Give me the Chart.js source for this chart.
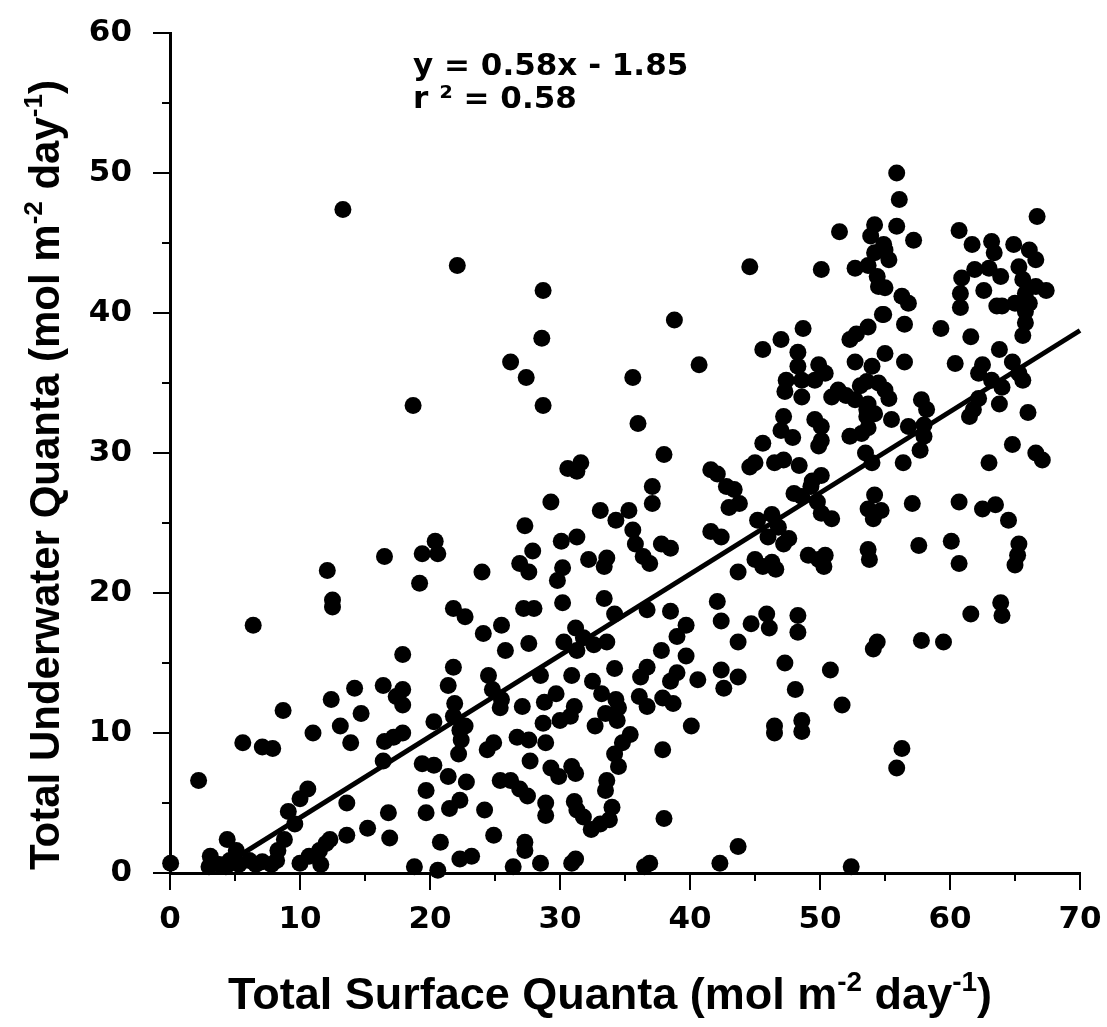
<!DOCTYPE html>
<html>
<head>
<meta charset="utf-8">
<title>Total Underwater vs Surface Quanta</title>
<script src="https://cdn.jsdelivr.net/npm/chart.js@4.4.0/dist/chart.umd.min.js"></script>
<style>
  html, body { margin: 0; padding: 0; background: #fff; }
  #wrap { width: 1107px; height: 1027px; }
</style>
</head>
<body>
<div id="wrap"><canvas id="quantaChart" width="1107" height="1027"></canvas></div>
<script>
// surface quanta (x) and underwater quanta (y), same order
const surfaceQuanta = [
    13.3, 22.1, 28.7, 28.6, 26.2, 27.4, 28.7, 18.7, 30.6, 31.3,
    31.6, 29.3, 33.1, 27.3, 27.9, 30.1, 31.3, 26.9, 27.6, 30.2,
    29.8, 32.2, 33.6, 33.4, 24.0, 20.4, 20.6, 19.4, 16.5, 12.1,
    19.2, 33.4,
    // lower left block
    12.5, 12.5, 6.4, 21.8, 22.7, 27.2, 28.0, 25.5, 24.1, 25.8,
    27.6, 30.2, 34.2, 31.2, 31.8, 30.3, 32.6, 33.6, 31.3, 17.9,
    21.8, 24.5, 28.5, 30.9, 32.5, 34.2, 14.2, 16.4, 17.9, 17.4,
    17.9, 12.4, 8.7, 14.7, 21.4, 21.9, 24.8, 25.5, 25.4, 27.1,
    28.8, 29.7, 31.1, 30.8, 30.0, 28.7, 33.2, 34.3, 33.5, 32.7,
    34.4, 20.3, 21.8, 22.3, 22.4, 22.2, 22.7, 11.0, 13.1, 13.9,
    5.6, 7.1, 7.9, 16.5, 17.2, 17.9, 16.4, 19.4, 20.3, 21.4,
    22.8, 19.7, 19.7, 21.5, 22.3, 24.2, 24.4, 24.9, 26.7, 27.6,
    28.9, 27.7, 29.3, 29.9, 30.9, 31.2, 25.4, 26.2, 26.9, 27.5,
    28.9, 28.9, 31.1, 31.3, 31.8, 32.4, 33.1, 33.8, 33.6, 33.5,
    34.0, 34.5, 34.2, 24.9, 20.8, 22.3, 23.2, 27.3, 27.3, 26.4,
    28.5, 31.2, 30.9, 18.8, 20.6, 13.6, 15.2, 16.8, 16.9, 13.6,
    10.6, 10.0, 9.1, 9.6, 8.8, 8.3, 8.2, 7.8, 10.0, 10.7,
    11.5, 12.0, 11.6, 12.3, 7.1, 6.6, 6.1, 5.3, 4.4, 3.1,
    3.0, 3.8, 4.6, 5.1, 0.05, 2.2, 4.3,
    // lower right block
    36.7, 38.5, 42.1, 42.4, 39.7, 39.0, 37.8, 39.7, 43.7, 44.7,
    45.9, 46.1, 48.3, 48.3, 36.7, 36.2, 36.1, 36.7, 39.0, 38.5,
    40.6, 42.4, 43.7, 42.6, 37.9, 38.7, 35.4, 34.8, 34.5, 40.1,
    37.9, 38.0, 47.3, 48.1, 46.5, 46.5, 48.6, 48.6, 50.8, 51.7,
    54.4, 54.1, 57.8, 59.5, 61.6, 63.9, 64.0, 56.3, 55.9, 43.7,
    42.3, 36.9, 36.5, 52.4,
    // middle right block
    38.8, 40.7, 35.6, 36.0, 38.0, 37.1, 37.1, 35.3, 34.3, 35.6,
    35.8, 36.4, 36.9, 37.8, 38.5, 41.6, 42.1, 42.8, 43.4, 43.0,
    43.8, 44.6, 45.0, 45.6, 47.0, 48.7, 48.3, 48.3, 47.4, 47.3,
    48.6, 49.9, 50.4, 49.6, 48.6, 47.2, 47.0, 47.9, 45.6, 46.5,
    47.2, 48.4, 41.6, 42.4, 45.2, 46.3, 46.0, 46.8, 47.2, 45.0,
    45.6, 46.3, 46.6, 43.7, 47.6, 49.1, 49.9, 50.4, 50.3, 49.3,
    49.4, 50.1, 48.0, 48.6, 50.1, 50.9, 49.8, 52.3, 52.8, 53.7,
    54.8, 56.5, 56.5, 55.0, 54.0, 52.7, 53.6, 53.1, 54.5, 55.0,
    52.0, 52.7, 53.7, 55.3, 53.6, 54.2, 55.5, 53.6, 52.3, 53.2,
    53.7, 53.5, 54.0, 57.1, 54.2, 53.7, 54.7, 54.1, 53.7, 53.8,
    57.6, 60.1, 60.7, 60.7, 62.5, 63.5, 64.5, 65.3, 65.2, 65.0,
    63.0, 64.8, 66.6, 67.1, 63.8, 66.0, 61.5, 61.8, 62.2, 57.8,
    58.2, 58.0, 58.0, 57.7, 56.8, 56.4, 59.3, 61.6, 60.4, 62.5,
    63.8, 64.8, 65.3, 63.2, 64.0, 62.2, 65.6, 65.8, 65.6, 49.6,
    50.1, 50.1, 49.9, 51.4, 50.9,
    // top right block
    44.6, 55.9, 56.1, 51.5, 54.2, 55.9, 53.9, 57.2, 54.9, 54.2,
    55.3, 53.7, 55.0, 50.1, 52.7, 54.4, 54.5, 55.0, 56.3, 56.8,
    54.9, 60.7, 61.7, 63.2, 63.4, 64.9, 66.7, 66.1, 66.6, 60.9,
    61.9, 63.0, 63.9, 60.8, 60.8, 62.6, 65.3, 65.6, 65.8, 66.6,
    67.4, 65.0, 66.1, 63.6, 64.0, 65.8
];

const underwaterQuanta = [
    47.4, 43.4, 41.6, 38.2, 36.5, 35.4, 33.4, 33.4, 28.9, 28.7,
    29.3, 26.5, 25.9, 24.8, 23.0, 23.7, 24.0, 22.1, 21.5, 21.8,
    20.9, 22.4, 22.5, 21.9, 21.5, 23.7, 22.8, 22.8, 22.6, 21.6,
    20.7, 19.6,
    // lower left block
    19.5, 19.0, 17.7, 18.9, 18.3, 18.9, 18.9, 17.7, 17.1, 15.9,
    16.4, 19.3, 18.5, 17.5, 16.8, 16.5, 16.3, 16.5, 15.9, 15.6,
    14.7, 14.1, 14.1, 14.1, 13.7, 14.6, 13.2, 13.4, 13.1, 12.6,
    12.0, 12.4, 11.6, 11.4, 13.4, 12.1, 13.1, 12.4, 11.8, 11.9,
    12.2, 12.8, 11.9, 11.2, 10.9, 10.7, 12.8, 12.4, 11.4, 10.5,
    10.9, 10.8, 11.2, 10.2, 9.5, 8.5, 10.5, 10.0, 10.5, 9.3,
    9.3, 9.0, 8.9, 9.4, 9.7, 10.0, 8.0, 7.8, 7.7, 6.9,
    6.5, 5.9, 4.3, 4.6, 5.2, 4.5, 8.8, 9.3, 9.7, 9.5,
    9.3, 8.0, 7.5, 6.9, 7.6, 7.1, 6.6, 6.6, 6.0, 5.5,
    5.0, 4.1, 5.1, 4.5, 4.0, 3.1, 3.5, 3.8, 6.6, 5.9,
    4.7, 7.6, 8.5, 2.7, 2.2, 1.0, 1.2, 2.2, 1.6, 0.45,
    0.7, 1.0, 0.7, 0.45, 0.2, 5.0, 3.2, 4.3, 2.5, 2.7,
    6.0, 5.3, 4.4, 3.5, 2.4, 1.6, 0.9, 0.6, 0.7, 1.2,
    1.6, 2.1, 0.6, 2.4, 0.8, 0.6, 0.9, 0.6, 2.4, 1.2,
    0.45, 0.6, 0.9, 1.6, 0.7, 6.6, 0.45,
    // lower right block
    18.8, 18.7, 19.4, 18.0, 17.7, 16.9, 15.9, 15.5, 16.5, 17.8,
    18.5, 17.5, 18.4, 17.2, 14.7, 14.0, 12.6, 11.9, 14.3, 13.7,
    13.8, 14.5, 14.0, 13.2, 12.5, 12.1, 9.9, 9.3, 11.8, 10.5,
    8.8, 3.9, 15.0, 13.1, 10.5, 10.0, 10.9, 10.1, 14.5, 12.0,
    16.5, 16.0, 16.6, 16.5, 18.5, 19.3, 18.4, 8.9, 7.5, 1.9,
    0.7, 0.7, 0.45, 0.45,
    // middle right block
    39.5, 36.3, 35.4, 32.1, 29.9, 27.6, 26.4, 25.9, 25.2, 24.5,
    23.5, 22.6, 22.1, 23.5, 23.2, 28.8, 28.5, 27.6, 27.4, 26.1,
    26.4, 29.0, 29.3, 37.4, 38.1, 38.9, 37.2, 36.2, 35.2, 34.4,
    34.0, 36.3, 35.7, 35.2, 35.2, 32.6, 31.6, 31.1, 30.7, 29.3,
    29.5, 29.1, 24.4, 24.0, 25.2, 25.6, 24.0, 24.7, 23.5, 22.4,
    21.9, 22.2, 21.7, 21.5, 23.9, 22.7, 22.4, 22.7, 21.9, 27.6,
    28.0, 28.4, 27.1, 26.9, 25.7, 25.3, 26.5, 38.1, 38.5, 39.0,
    39.9, 39.2, 36.5, 37.1, 36.2, 36.5, 35.1, 34.8, 35.0, 34.5,
    34.1, 33.8, 33.5, 33.9, 33.1, 32.8, 32.4, 32.6, 31.2, 31.4,
    31.8, 30.0, 29.3, 26.4, 27.0, 26.0, 25.9, 25.3, 23.1, 22.4,
    23.4, 23.7, 22.1, 26.5, 26.0, 26.3, 25.2, 23.5, 22.7, 22.0,
    29.3, 30.6, 30.0, 29.5, 33.5, 32.9, 32.6, 33.1, 33.9, 33.8,
    33.1, 32.0, 31.2, 30.2, 31.9, 29.3, 38.9, 38.3, 36.4, 36.3,
    37.4, 36.5, 35.7, 35.2, 34.7, 35.7, 35.2, 39.3, 38.4, 32.4,
    31.9, 30.9, 30.5, 34.5, 34.0,
    // top right block
    43.3, 50.0, 48.1, 45.8, 46.3, 46.2, 45.5, 45.2, 44.9, 44.3,
    43.8, 43.4, 44.5, 43.1, 43.2, 42.6, 41.9, 41.8, 41.2, 40.7,
    39.9, 45.9, 44.9, 45.1, 44.3, 44.9, 46.9, 44.5, 43.8, 42.5,
    43.1, 43.2, 42.6, 41.4, 40.4, 41.6, 43.3, 42.4, 41.4, 41.9,
    41.6, 40.7, 40.7, 40.5, 40.5, 40.1
];

// regression line ends as drawn on the plot
const fitLineX = [4.5, 70];
const fitLineY = [0.76, 38.75];
const fitText = ['y = 0.58x - 1.85', 'r \u00b2 = 0.58'];
const fitTextAnchor = { x: 18.7, y: [57.6, 55.2] };

// axis titles, superscripts marked separately
const xTitleParts = [['Total Surface Quanta (mol m', false], ['-2', true], [' day', false], ['-1', true], [')', false]];
const yTitleParts = [['Total Underwater Quanta (mol m', false], ['-2', true], [' day', false], ['-1', true], [')', false]];

const points = surfaceQuanta.map(function (v, i) {
    return { x: v, y: underwaterQuanta[i] };
});
const fitLine = fitLineX.map(function (v, i) {
    return { x: v, y: fitLineY[i] };
});

// small outward tick marks, long ones every 10, short ones every 5
const axisTicks = {
    id: 'axisTicks',
    afterDraw(chart) {
        const ctx = chart.ctx;
        const area = chart.chartArea;
        const xs = chart.scales.x, ys = chart.scales.y;
        ctx.save();
        ctx.strokeStyle = '#000';
        ctx.lineWidth = 2;
        ctx.beginPath();
        for (let v = xs.min; v <= xs.max; v += 5) {
            const px = Math.round(xs.getPixelForValue(v));
            const len = v % 10 === 0 ? 17 : 8;
            ctx.moveTo(px, area.bottom);
            ctx.lineTo(px, area.bottom + len);
        }
        for (let v = ys.min; v <= ys.max; v += 5) {
            const py = Math.round(ys.getPixelForValue(v));
            const len = v % 10 === 0 ? 17 : 8;
            ctx.moveTo(area.left, py);
            ctx.lineTo(area.left - len, py);
        }
        ctx.stroke();
        ctx.restore();
    }
};

function drawTitle(ctx, parts, size) {
    let total = 0;
    const widths = parts.map(function (p) {
        ctx.font = 'bold ' + (p[1] ? size * 0.62 : size) + 'px "Liberation Sans", Arial, sans-serif';
        const w = ctx.measureText(p[0]).width;
        total += w;
        return w;
    });
    let x = -total / 2;
    parts.forEach(function (p, i) {
        ctx.font = 'bold ' + (p[1] ? size * 0.62 : size) + 'px "Liberation Sans", Arial, sans-serif';
        ctx.fillText(p[0], x, p[1] ? size * 0.36 - size * 0.4 : size * 0.36);
        x += widths[i];
    });
}

const axisTitles = {
    id: 'axisTitles',
    afterDraw(chart) {
        const ctx = chart.ctx;
        const area = chart.chartArea;
        ctx.save();
        ctx.fillStyle = '#000';
        ctx.textAlign = 'left';
        ctx.textBaseline = 'alphabetic';
        ctx.save();
        ctx.translate((area.left + area.right) / 2 - 15, area.bottom + 120);
        drawTitle(ctx, xTitleParts, 45);
        ctx.restore();
        ctx.save();
        ctx.translate(area.left - 126, (area.top + area.bottom) / 2 + 22);
        ctx.rotate(-Math.PI / 2);
        drawTitle(ctx, yTitleParts, 42);
        ctx.restore();
        ctx.restore();
    }
};

const fitLabel = {
    id: 'fitLabel',
    afterDraw(chart) {
        const ctx = chart.ctx;
        const xs = chart.scales.x, ys = chart.scales.y;
        ctx.save();
        ctx.fillStyle = '#000';
        ctx.font = 'bold 31px "DejaVu Sans"';
        ctx.textAlign = 'left';
        ctx.textBaseline = 'middle';
        fitText.forEach(function (t, i) {
            ctx.fillText(t, xs.getPixelForValue(fitTextAnchor.x), ys.getPixelForValue(fitTextAnchor.y[i]));
        });
        ctx.restore();
    }
};

document.addEventListener('DOMContentLoaded', function () {
    const ctx = document.getElementById('quantaChart').getContext('2d');
    const tickFont = { family: 'DejaVu Sans', weight: 'bold', size: 31 };

    new Chart(ctx, {
        type: 'scatter',
        data: {
            datasets: [{
                label: 'Observations',
                data: points,
                pointRadius: 8.5,
                pointHoverRadius: 8.5,
                pointBackgroundColor: '#000',
                pointBorderWidth: 0,
                clip: false,
                order: 1
            }, {
                type: 'line',
                label: 'Regression',
                data: fitLine,
                borderColor: '#000',
                borderWidth: 5,
                pointRadius: 0,
                fill: false,
                clip: false,
                order: 2
            }]
        },
        options: {
            responsive: false,
            animation: false,
            devicePixelRatio: 1,
            layout: { padding: { top: 33, right: 27, left: 0, bottom: 0 } },
            plugins: {
                legend: { display: false },
                tooltip: { enabled: false }
            },
            scales: {
                x: {
                    type: 'linear',
                    position: 'bottom',
                    min: 0,
                    max: 70,
                    ticks: { stepSize: 10, color: '#000', font: tickFont, padding: 28, maxRotation: 0 },
                    grid: { display: false, drawTicks: false },
                    border: { display: true, color: '#000', width: 3 },
                    title: { display: false },
                    afterFit: function (scale) {
                        scale.height = 154;
                        scale.paddingLeft = 0;
                        scale.paddingRight = 0;
                    }
                },
                y: {
                    type: 'linear',
                    position: 'left',
                    min: 0,
                    max: 60,
                    ticks: { stepSize: 10, color: '#000', font: tickFont, padding: 38 },
                    grid: { display: false, drawTicks: false },
                    border: { display: true, color: '#000', width: 3 },
                    title: { display: false },
                    afterFit: function (scale) {
                        scale.width = 170;
                        scale.paddingTop = 0;
                        scale.paddingBottom = 0;
                    }
                }
            }
        },
        plugins: [axisTicks, axisTitles, fitLabel]
    });
});
</script>
</body>
</html>
